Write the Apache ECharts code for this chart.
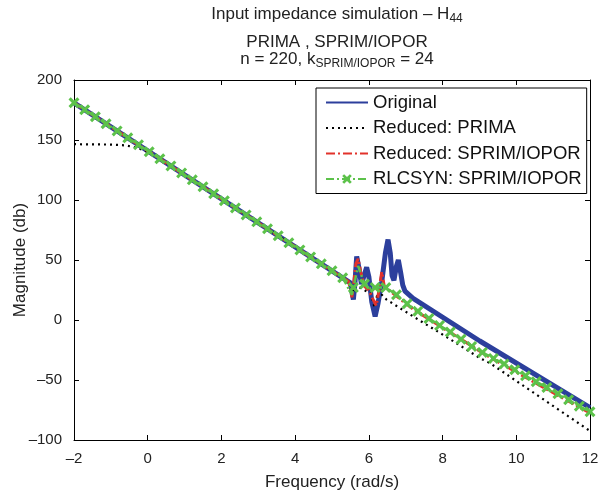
<!DOCTYPE html>
<html>
<head>
<meta charset="utf-8">
<script src="https://cdn.jsdelivr.net/npm/echarts@6/dist/echarts.min.js"></script>
<style>
html, body { margin: 0; padding: 0; background: #fff; }
#chart { width: 605px; height: 498px; }
</style>
</head>
<body>
<div id="chart"></div>
<script>
// values (frequency in rad/s, magnitude in db)
var origFreq = [-2, 5.5, 5.55, 5.58, 5.62, 5.67, 5.72, 5.8, 5.88, 5.94, 6.0, 6.08, 6.17, 6.25, 6.35, 6.45, 6.52, 6.58, 6.63, 6.68, 6.75, 6.8, 6.86, 6.92, 6.98, 7.2, 9.01, 12];
var origDb   = [181, 31, 22, 17, 30, 53, 45, 30, 38, 44, 36, 15, 3, 14, 32, 56, 67, 56, 37, 33, 45, 50, 40, 29, 24, 18, -17.5, -73];

var primaFreq = [-2, -1, -0.6, -0.35, -0.1, 0.2, 5.5, 5.58, 5.63, 5.7, 6.05, 6.15, 6.22, 6.35, 6.48, 7.2, 8.1, 9.01, 9.29, 12];
var primaDb   = [146.5, 146.2, 145.5, 144, 141.5, 137, 31, 24, 29, 28, 22, 11, 20, 21, 17, 3, -14, -31.7, -36, -92.5];

var sprimFreq = [-2, 5.45, 5.5, 5.54, 5.58, 5.65, 5.71, 5.78, 5.88, 6.0, 6.1, 6.2, 6.27, 6.35, 6.42, 6.5, 7.2, 8.34, 9.2, 10.64, 12];
var sprimDb   = [181, 32, 26, 19, 28, 47, 51, 40, 28, 25, 18, 12, 24, 40, 28, 26, 9, -13, -29.5, -54.5, -77.5];

var rlcFreq = [-2, -1.71, -1.42, -1.13, -0.83, -0.54, -0.25, 0.04, 0.33, 0.63, 0.92, 1.21, 1.5, 1.79, 2.08, 2.38, 2.67, 2.96, 3.25, 3.54, 3.83, 4.13, 4.42, 4.71, 5.0, 5.29, 5.54, 5.58, 5.71, 5.88, 6.05, 6.17, 6.46, 6.75, 7.04, 7.33, 7.63, 7.92, 8.21, 8.5, 8.79, 9.08, 9.38, 9.67, 9.96, 10.25, 10.54, 10.83, 11.13, 11.42, 11.71, 12];
var rlcDb   = [181, 175.2, 169.4, 163.6, 157.6, 151.8, 146, 140.2, 134.4, 128.4, 122.6, 116.8, 111, 105.2, 99.4, 93.4, 87.6, 81.8, 76, 70.2, 64.4, 58.4, 52.6, 46.8, 41, 35.2, 21, 27, 45, 30, 26, 27, 27, 21, 13.5, 7.3, 1.2, -4.5, -10, -16, -22, -27, -32, -36.6, -41.4, -46.5, -51.4, -56.3, -61.5, -66.5, -71.8, -76.5];
var rlcUnmarked = [5.54, 5.71, 6.05];

var seriesNames = ['Original', 'Reduced: PRIMA', 'Reduced: SPRIM/IOPOR', 'RLCSYN: SPRIM/IOPOR'];

function pairs(xs, ys) {
    var out = [];
    for (var i = 0; i < xs.length; i++) out.push([xs[i], ys[i]]);
    return out;
}

var rlcData = [];
for (var i = 0; i < rlcFreq.length; i++) {
    if (rlcUnmarked.indexOf(rlcFreq[i]) >= 0) {
        rlcData.push({value: [rlcFreq[i], rlcDb[i]], symbol: 'none'});
    } else {
        rlcData.push([rlcFreq[i], rlcDb[i]]);
    }
}

var font = 'Liberation Sans, Arial, Helvetica, sans-serif';
var minus = function (v) { return String(v).replace('-', '\u2013'); };
var crossPath = 'path://M2,0 L5,3 L8,0 L10,2 L7,5 L10,8 L8,10 L5,7 L2,10 L0,8 L3,5 L0,2 Z';
var hideMark = {opacity: 0};

var mychart = echarts.init(document.getElementById('chart'));
var option = {
    animation: false,
    backgroundColor: '#fff',
    title: [
        {
            text: 'Input impedance simulation \u2013 H{s|44}',
            left: 332, top: -2, textAlign: 'center',
            textStyle: {fontFamily: font, fontSize: 17, fontWeight: 'normal', color: '#222',
                rich: {s: {fontFamily: font, fontSize: 12, color: '#222', padding: [10, 0, 0, 0]}}}
        },
        {
            text: 'PRIMA , SPRIM/IOPOR',
            left: 332, top: 29, textAlign: 'center',
            textStyle: {fontFamily: font, fontSize: 17, fontWeight: 'normal', color: '#222'}
        },
        {
            text: 'n = 220, k{s|SPRIM/IOPOR} = 24',
            left: 332, top: 43, textAlign: 'center',
            textStyle: {fontFamily: font, fontSize: 17, fontWeight: 'normal', color: '#222',
                rich: {s: {fontFamily: font, fontSize: 12, color: '#222', padding: [10, 0, 0, 0]}}}
        }
    ],
    legend: {
        data: [
            {name: seriesNames[0], itemStyle: hideMark},
            {name: seriesNames[1], itemStyle: hideMark},
            {name: seriesNames[2], itemStyle: hideMark},
            {name: seriesNames[3]}
        ],
        orient: 'vertical',
        left: 316, top: 88,
        itemWidth: 42, itemHeight: 12, itemGap: 6.5,
        padding: [5, 5, 5, 9],
        borderColor: '#000', borderWidth: 1,
        backgroundColor: '#fff',
        textStyle: {fontFamily: font, fontSize: 18.5, color: '#111'}
    },
    grid: {left: 74, right: 15, top: 80, bottom: 58, containLabel: false, outerBoundsMode: 'none'},
    xAxis: [
        {
            type: 'value', min: -2, max: 12, interval: 2,
            name: 'Frequency (rad/s)', nameLocation: 'middle', nameGap: 34, nameMoveOverlap: false,
            nameTextStyle: {fontFamily: font, fontSize: 17, color: '#222'},
            axisLine: {onZero: false, lineStyle: {color: '#000', width: 1}},
            axisTick: {inside: true, length: 5, lineStyle: {color: '#000'}},
            axisLabel: {fontFamily: font, fontSize: 15, color: '#222', margin: 11, formatter: minus},
            splitLine: {show: false}
        },
        {
            type: 'value', min: -2, max: 12, interval: 2, position: 'top',
            axisLine: {onZero: false, lineStyle: {color: '#000', width: 1}},
            axisTick: {inside: true, length: 5, lineStyle: {color: '#000'}},
            axisLabel: {show: false},
            splitLine: {show: false}
        }
    ],
    yAxis: [
        {
            type: 'value', min: -100, max: 200, interval: 50,
            name: 'Magnitude (db)', nameLocation: 'middle', nameGap: 45, nameMoveOverlap: false,
            nameTextStyle: {fontFamily: font, fontSize: 17, color: '#222'},
            axisLine: {show: true, onZero: false, lineStyle: {color: '#000', width: 1}},
            axisTick: {show: true, inside: true, length: 5, lineStyle: {color: '#000'}},
            axisLabel: {fontFamily: font, fontSize: 15, color: '#222', margin: 12, formatter: minus},
            splitLine: {show: false}
        },
        {
            type: 'value', min: -100, max: 200, interval: 50, position: 'right',
            axisLine: {show: true, onZero: false, lineStyle: {color: '#000', width: 1}},
            axisTick: {show: true, inside: true, length: 5, lineStyle: {color: '#000'}},
            axisLabel: {show: false},
            splitLine: {show: false}
        }
    ],
    series: [
        {
            name: seriesNames[0], type: 'line', symbol: 'none',
            color: '#2c3f9c',
            lineStyle: {color: '#2c3f9c', width: 5},
            data: pairs(origFreq, origDb)
        },
        {
            name: seriesNames[1], type: 'line', symbol: 'none',
            color: '#000',
            lineStyle: {color: '#000', width: 2.2, type: [2, 4]},
            data: pairs(primaFreq, primaDb)
        },
        {
            name: seriesNames[2], type: 'line', symbol: 'none',
            color: '#e2322b',
            lineStyle: {color: '#e2322b', width: 3, type: [9, 3, 2, 3]},
            data: pairs(sprimFreq, sprimDb)
        },
        {
            name: seriesNames[3], type: 'line',
            symbol: crossPath, symbolSize: 11, showSymbol: true, showAllSymbol: true,
            color: '#5cc24a',
            itemStyle: {color: '#5cc24a'},
            lineStyle: {color: '#5cc24a', width: 2.5, type: [8, 3, 2, 3]},
            data: rlcData
        }
    ]
};
mychart.setOption(option);
</script>
</body>
</html>
